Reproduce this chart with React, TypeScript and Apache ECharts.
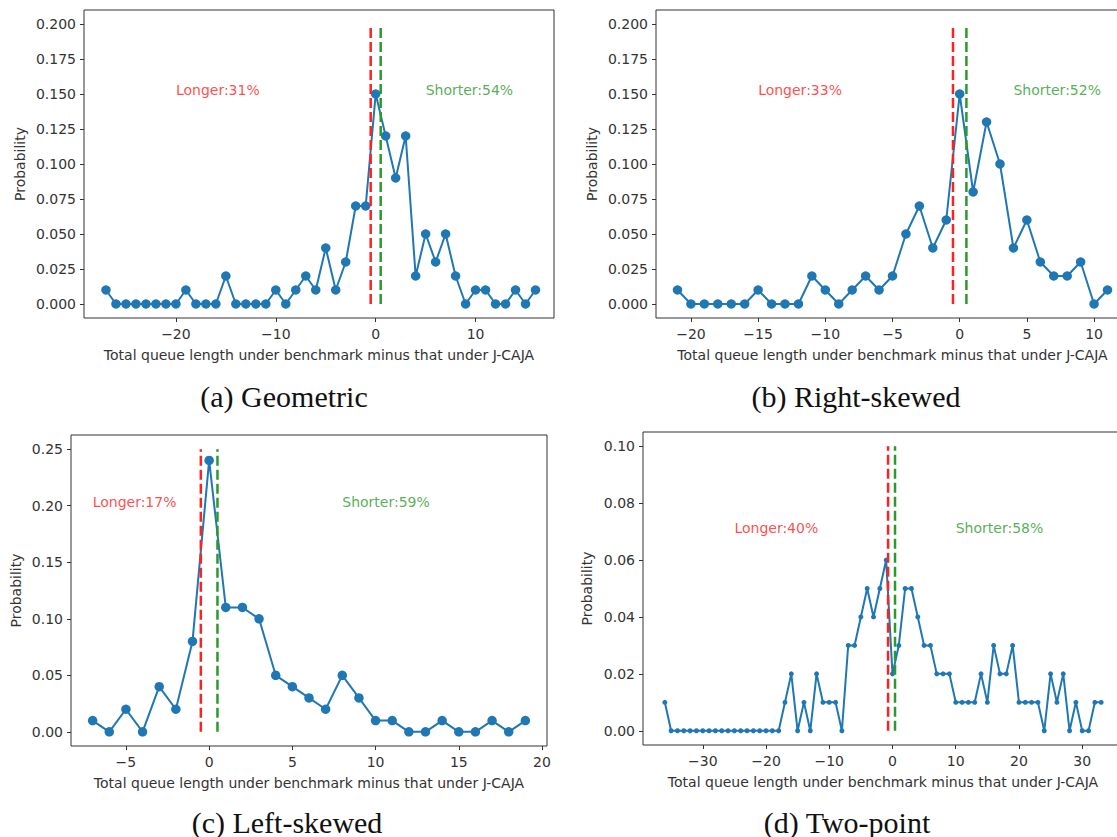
import React, { useEffect, useRef } from 'react';
import * as echarts from 'echarts';

// ---------- data ----------
const xA = [-27,-26,-25,-24,-23,-22,-21,-20,-19,-18,-17,-16,-15,-14,-13,-12,-11,-10,-9,-8,-7,-6,-5,-4,-3,-2,-1,0,1,2,3,4,5,6,7,8,9,10,11,12,13,14,15,16];
const yA = [0.01,0,0,0,0,0,0,0, 0.01,0,0,0,0.02,0,0,0, 0,0.01,0,0.01,0.02,0.01,0.04,0.01, 0.03,0.07,0.07,0.15,0.12,0.09,0.12,0.02, 0.05,0.03,0.05,0.02,0,0.01,0.01,0, 0,0.01,0,0.01];

const xB = [-21,-20,-19,-18,-17,-16,-15,-14,-13,-12,-11,-10,-9,-8,-7,-6,-5,-4,-3,-2,-1,0,1,2,3,4,5,6,7,8,9,10,11];
const yB = [0.01,0,0,0,0,0,0.01,0, 0,0,0.02,0.01,0,0.01,0.02,0.01, 0.02,0.05,0.07,0.04,0.06,0.15,0.08,0.13, 0.10,0.04,0.06,0.03,0.02,0.02,0.03,0, 0.01];

const xC = [-7,-6,-5,-4,-3,-2,-1,0,1,2,3,4,5,6,7,8,9,10,11,12,13,14,15,16,17,18,19];
const yC = [0.01,0,0.02,0,0.04,0.02,0.08,0.24,0.11,0.11,0.10,0.05,0.04,0.03,0.02,0.05,0.03,0.01,0.01,0,0,0.01,0,0,0.01,0,0.01];

const xD = [-36,-35,-34,-33,-32,-31,-30,-29,-28,-27,-26,-25,-24,-23,-22,-21,-20,-19,-18,-17,-16,-15,-14,-13,-12,-11,-10,-9,-8,-7,-6,-5,-4,-3,-2,-1,0,1,2,3,4,5,6,7,8,9,10,11,12,13,14,15,16,17,18,19,20,21,22,23,24,25,26,27,28,29,30,31,32,33];
const yD = [0.01,
  0,0,0,0,0,0,0,0,0,0,0,0,0,0,0,0,0,0,
  0.01,0.02,0,0.01,0,0.02,0.01,0.01,0.01,0,0.03,0.03,0.04,0.05,0.04,0.05,0.06,
  0.02,0.03,0.05,0.05,0.04,0.03,0.03,0.02,0.02,0.02,0.01,0.01,0.01,0.01,0.02,0.01,0.03,0.02,0.02,0.03,0.01,0.01,0.01,0.01,0,0.02,0.01,0.02,0,0.01,0,0,0.01,0.01];

const xTicksA = [-20, -10, 0, 10];
const yTicksA = [0, 0.025, 0.05, 0.075, 0.1, 0.125, 0.15, 0.175, 0.2];
const xTicksB = [-20, -15, -10, -5, 0, 5, 10];
const yTicksB = [0, 0.025, 0.05, 0.075, 0.1, 0.125, 0.15, 0.175, 0.2];
const xTicksC = [-5, 0, 5, 10, 15, 20];
const yTicksC = [0, 0.05, 0.1, 0.15, 0.2, 0.25];
const xTicksD = [-30, -20, -10, 0, 10, 20, 30];
const yTicksD = [0, 0.02, 0.04, 0.06, 0.08, 0.1];

const longerLabels = ['Longer:31%', 'Longer:33%', 'Longer:17%', 'Longer:40%'];
const shorterLabels = ['Shorter:54%', 'Shorter:52%', 'Shorter:59%', 'Shorter:58%'];
const longerPos = [[-20, 0.15], [-15, 0.15], [-7, 0.2], [-25, 0.07]];
const shorterPos = [[5, 0.15], [4, 0.15], [8, 0.2], [10, 0.07]];
const redX = [-0.5, -0.5, -0.5, -0.7];
const greenX = [0.5, 0.5, 0.5, 0.4];
const lineTop = [0.2, 0.2, 0.25, 0.1];
const captions = ['(a) Geometric', '(b) Right-skewed', '(c) Left-skewed', '(d) Two-point'];

const XNAME = 'Total queue length under benchmark minus that under J-CAJA';
const YNAME = 'Probability';

// ---------- layout ----------
const panels = [
  { xs: xA, ys: yA, xr: [-29.2, 17.85], yr: [-0.01, 0.21], xt: xTicksA, yt: yTicksA, dec: 3, sym: 9.5,
    grid: { left: 84, top: 10, width: 470, height: 308 }, yGap: 57, cap: [284, 396] },
  { xs: xB, ys: yB, xr: [-22.6, 12.6], yr: [-0.01, 0.21], xt: xTicksB, yt: yTicksB, dec: 3, sym: 9.5,
    grid: { left: 656, top: 10, width: 473, height: 308 }, yGap: 57, cap: [856, 396] },
  { xs: xC, ys: yC, xr: [-8.3, 20.3], yr: [-0.0125, 0.2625], xt: xTicksC, yt: yTicksC, dec: 2, sym: 9.5,
    grid: { left: 71, top: 435, width: 476, height: 311 }, yGap: 48, cap: [287, 822] },
  { xs: xD, ys: yD, xr: [-39.45, 36.45], yr: [-0.005, 0.105], xt: xTicksD, yt: yTicksD, dec: 2, sym: 5,
    grid: { left: 643, top: 432, width: 480, height: 313 }, yGap: 49, cap: [847, 822] },
];

const TXT = '#333';
const FONT = 'DejaVu Sans';
const FS = 14;
const fmtX = (v: number) => (v < 0 ? '\u2212' + Math.abs(v) : String(v));

export default function App() {
  const ref = useRef<HTMLDivElement>(null);
  useEffect(() => {
    if (!ref.current) return;
    const chart = echarts.init(ref.current, null, { renderer: 'svg' });

    const grid = panels.map((p) => ({
      ...p.grid, show: true, borderColor: '#333', borderWidth: 1, backgroundColor: '#fff',
      containLabel: false, outerBoundsMode: 'none',
    }));

    const xAxis = panels.map((p, i) => ({
      type: 'value', gridIndex: i, min: p.xr[0], max: p.xr[1],
      axisLine: { show: false, onZero: false },
      axisTick: { show: true, length: 4, lineStyle: { color: TXT, width: 1 }, customValues: p.xt },
      axisLabel: { customValues: p.xt, formatter: fmtX, fontSize: FS, color: TXT, fontFamily: FONT, margin: 9 },
      splitLine: { show: false },
      name: XNAME, nameLocation: 'middle', nameGap: 30,
      nameTextStyle: { fontSize: FS, color: TXT, fontFamily: FONT },
    }));

    const yAxis = panels.map((p, i) => ({
      type: 'value', gridIndex: i, min: p.yr[0], max: p.yr[1],
      axisLine: { show: false, onZero: false },
      axisTick: { show: true, length: 4, lineStyle: { color: TXT, width: 1 }, customValues: p.yt },
      axisLabel: { customValues: p.yt, formatter: (v: number) => v.toFixed(p.dec), fontSize: FS, color: TXT, fontFamily: FONT, margin: 8 },
      splitLine: { show: false },
      name: YNAME, nameLocation: 'middle', nameGap: p.yGap, nameRotate: 90,
      nameTextStyle: { fontSize: FS, color: TXT, fontFamily: FONT },
    }));

    const series: any[] = [];
    panels.forEach((p, i) => {
      series.push({
        type: 'line', xAxisIndex: i, yAxisIndex: i,
        data: p.xs.map((x, j) => [x, p.ys[j]]),
        symbol: 'circle', symbolSize: p.sym, showSymbol: true, showAllSymbol: true,
        lineStyle: { color: '#1f77b4', width: 2 }, itemStyle: { color: '#1f77b4' }, z: 2, silent: true,
      });
      series.push({
        type: 'line', xAxisIndex: i, yAxisIndex: i,
        data: [[redX[i], 0], [redX[i], lineTop[i]]], symbol: 'none',
        lineStyle: { color: '#ff2020', width: 2.5, type: [10, 4] }, z: 3, silent: true,
      });
      series.push({
        type: 'line', xAxisIndex: i, yAxisIndex: i,
        data: [[greenX[i], 0], [greenX[i], lineTop[i]]], symbol: 'none',
        lineStyle: { color: '#2a9a2a', width: 2.5, type: [10, 4] }, z: 4, silent: true,
      });
      const lab = (text: string, color: string) => ({
        show: true, formatter: text, position: 'inside', align: 'left', verticalAlign: 'bottom',
        offset: [0, 3], color, fontSize: FS, fontFamily: FONT,
      });
      series.push({
        type: 'scatter', xAxisIndex: i, yAxisIndex: i, silent: true, symbolSize: 1,
        itemStyle: { color: 'rgba(0,0,0,0)' },
        data: [{ value: longerPos[i], label: lab(longerLabels[i], '#ff2020') },
               { value: shorterPos[i], label: lab(shorterLabels[i], '#2a9a2a') }],
        z: 5,
      });
    });

    const graphic = panels.map((p, i) => ({
      type: 'text', x: p.cap[0], y: p.cap[1], z: 10,
      style: { text: captions[i], fontSize: 30, fontFamily: 'Liberation Serif', fill: '#111',
        align: 'center', verticalAlign: 'middle', textAlign: 'center', textVerticalAlign: 'middle' },
    }));

    chart.setOption({
      animation: false,
      backgroundColor: '#fff',
      grid, xAxis, yAxis, series, graphic,
    });
    return () => chart.dispose();
  }, []);

  return <div ref={ref} style={{ position: 'absolute', left: 0, top: 0, width: 1117, height: 837 }} />;
}
